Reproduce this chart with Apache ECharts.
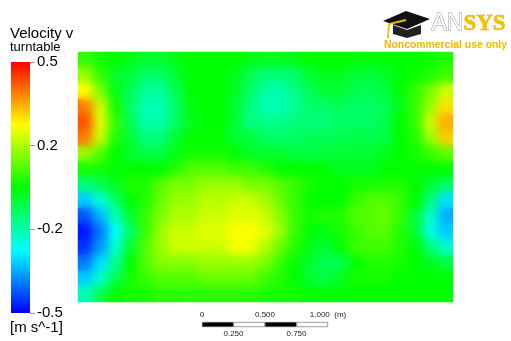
<!DOCTYPE html>
<html>
<head>
<meta charset="utf-8">
<script src="https://cdn.jsdelivr.net/npm/echarts@6/dist/echarts.min.js"></script>
<style>
  html, body { margin: 0; padding: 0; background: #ffffff; }
  #chart { width: 511px; height: 341px; }
</style>
</head>
<body>
<div id="chart"></div>
<script>
// velocity v on the turntable, rows top -> bottom, columns left -> right
const velocityRows = [
  [0.05, 0.02, 0, -0.02, -0.04, -0.05, -0.02, 0, 0, 0, 0, -0.02, -0.03, -0.03, -0.02, 0, 0, 0, -0.01, -0.01, 0, 0, 0, 0.01, 0.03],
  [0.15, 0.05, -0.04, -0.06, -0.1, -0.1, -0.05, 0, 0, 0, -0.02, -0.08, -0.12, -0.12, -0.1, -0.04, -0.03, -0.03, -0.05, -0.06, -0.04, -0.01, 0.01, 0.03, 0.06],
  [0.25, 0.12, -0.02, -0.08, -0.15, -0.15, -0.08, 0, 0, 0, -0.03, -0.1, -0.16, -0.17, -0.13, -0.08, -0.05, -0.05, -0.08, -0.08, -0.06, 0, 0.05, 0.12, 0.2],
  [0.38, 0.2, 0.02, -0.1, -0.18, -0.18, -0.1, -0.02, 0, 0, -0.05, -0.12, -0.18, -0.18, -0.15, -0.1, -0.1, -0.08, -0.1, -0.1, -0.08, -0.02, 0.05, 0.15, 0.28],
  [0.42, 0.22, 0.05, -0.08, -0.17, -0.17, -0.1, -0.03, 0, 0, -0.05, -0.13, -0.13, -0.13, -0.12, -0.12, -0.12, -0.1, -0.1, -0.1, -0.07, 0, 0.05, 0.2, 0.33],
  [0.38, 0.2, 0.03, -0.05, -0.12, -0.12, -0.05, 0, 0, 0, -0.05, -0.05, -0.1, -0.1, -0.1, -0.08, -0.08, -0.08, -0.07, -0.07, -0.07, 0, 0.03, 0.15, 0.3],
  [0.15, 0.08, 0, -0.04, -0.07, -0.07, -0.02, 0.02, 0.02, 0.02, 0, -0.04, -0.04, -0.04, -0.06, -0.06, -0.06, -0.05, -0.05, -0.05, -0.02, 0, 0.02, 0.05, 0.1],
  [0.02, 0.02, 0, 0, 0, 0, 0.03, 0.08, 0.08, 0.08, 0.06, 0.06, 0.03, 0, 0, 0, 0, -0.03, -0.03, -0.03, 0, 0, 0, 0, 0],
  [-0.12, -0.08, -0.03, 0.03, 0.03, 0.08, 0.12, 0.12, 0.15, 0.15, 0.15, 0.12, 0.12, 0.08, 0.05, 0.02, 0, 0, 0.02, 0.02, 0.03, 0.03, 0, -0.05, -0.1],
  [-0.3, -0.22, -0.1, 0, 0.03, 0.1, 0.15, 0.15, 0.18, 0.18, 0.2, 0.2, 0.16, 0.1, 0.05, 0, 0, 0, 0.05, 0.08, 0.08, 0.05, 0, -0.12, -0.28],
  [-0.42, -0.32, -0.18, -0.05, 0.05, 0.12, 0.17, 0.17, 0.2, 0.2, 0.22, 0.22, 0.2, 0.13, 0.05, 0.02, 0.03, 0.03, 0.08, 0.08, 0.1, 0.05, -0.05, -0.2, -0.33],
  [-0.48, -0.38, -0.25, -0.1, 0.05, 0.15, 0.2, 0.2, 0.22, 0.22, 0.25, 0.25, 0.22, 0.15, 0.05, 0, -0.02, 0.02, 0.05, 0.08, 0.08, 0.03, -0.05, -0.22, -0.3],
  [-0.45, -0.35, -0.2, -0.05, 0.08, 0.15, 0.2, 0.2, 0.2, 0.2, 0.24, 0.24, 0.18, 0.1, 0.03, -0.02, -0.05, 0, 0.06, 0.06, 0.06, 0.03, 0, -0.12, -0.2],
  [-0.38, -0.28, -0.15, 0, 0.08, 0.13, 0.13, 0.13, 0.15, 0.15, 0.15, 0.15, 0.12, 0.05, 0, -0.05, -0.08, -0.08, 0, 0.03, 0.03, 0.02, 0, -0.03, -0.06],
  [-0.3, -0.2, -0.08, 0.02, 0.05, 0.08, 0.08, 0.08, 0.1, 0.1, 0.1, 0.1, 0.06, 0.03, 0, -0.05, -0.07, -0.03, 0.02, 0.02, 0.02, 0, 0, 0, 0],
  [-0.18, -0.08, 0, 0.02, 0.02, 0.04, 0.04, 0.04, 0.04, 0.04, 0.04, 0.04, 0.02, 0.02, 0.02, 0, 0, 0, 0, 0, 0, 0, 0, 0, 0]
];

// legend
const legendTickLabels = ['-0.5', '-0.2', '0.2', '0.5'];
const rainbow = ['#0000ff', '#00ffff', '#00ff00', '#ffff00', '#ff0000'];

// scale bar (m)
const scaleSegments = [0.25, 0.25, 0.25, 0.25];
const scaleTopLabels = { 0: '0', 0.5: '0.500', 1: '1.000' };
const scaleBottomLabels = { 0.25: '0.250', 0.75: '0.750' };

const nCols = velocityRows[0].length;
const nRows = velocityRows.length;
const colCats = [];
for (let i = 0; i < nCols; i++) colCats.push(i);
const rowCats = [];
for (let j = 0; j < nRows; j++) rowCats.push(j);

const heatData = [];
velocityRows.forEach((row, j) => {
  row.forEach((v, i) => heatData.push([i, j, v]));
});

const font = 'Liberation Sans';
const chart = echarts.init(document.getElementById('chart'));

// same field twice: a plain layer, and one on its own canvas layer that gets softened
const heatSeries = (zlevel) => ({
  type: 'heatmap',
  xAxisIndex: 0, yAxisIndex: 0,
  zlevel: zlevel,
  data: heatData,
  itemStyle: { borderWidth: 0 },
  emphasis: { disabled: true },
  silent: true
});

// legend bar gradient, top (red) to bottom (blue)
const legendGradient = new echarts.graphic.LinearGradient(0, 0, 0, 1,
  rainbow.slice().reverse().map((c, k) => ({ offset: k / (rainbow.length - 1), color: c })));

const option = {
  backgroundColor: '#ffffff',
  animation: false,
  textStyle: { fontFamily: font },
  grid: [
    // contour field
    { left: 78, top: 52, width: 375, height: 250 },
    // colour legend
    { left: 11, top: 62, width: 19, height: 251 },
    // scale bar
    { left: 202, top: 322, width: 126, height: 5 }
  ],
  xAxis: [
    { gridIndex: 0, type: 'category', data: colCats, show: false },
    { gridIndex: 1, type: 'category', data: ['legend'], show: false },
    {
      gridIndex: 2, type: 'value', position: 'top', min: 0, max: 1, interval: 0.5,
      axisLine: { show: false }, axisTick: { show: false }, splitLine: { show: false },
      axisLabel: {
        margin: 3, fontSize: 8, color: '#222',
        formatter: v => v === 1 ? '{a|' + scaleTopLabels[v] + '}{b|  (m)}' : (scaleTopLabels[v] || ''),
        rich: { a: { fontSize: 8, color: '#222' }, b: { fontSize: 8, color: '#222' } }
      }
    },
    {
      gridIndex: 2, type: 'value', position: 'bottom', min: 0, max: 1, interval: 0.25,
      axisLine: { show: false }, axisTick: { show: false }, splitLine: { show: false },
      axisLabel: { margin: 3, fontSize: 8, color: '#222', formatter: v => scaleBottomLabels[v] || '' }
    }
  ],
  yAxis: [
    { gridIndex: 0, type: 'category', data: rowCats, inverse: true, show: false },
    {
      gridIndex: 1, type: 'value', position: 'right', min: 0, max: 3, interval: 1,
      axisLine: { show: false },
      axisTick: { show: true, length: 5, lineStyle: { color: '#999', width: 1 } },
      splitLine: { show: false },
      axisLabel: { margin: 7, fontSize: 15, color: '#000', formatter: v => legendTickLabels[v] }
    },
    { gridIndex: 2, type: 'category', data: ['bar'], show: false }
  ],
  visualMap: {
    type: 'continuous',
    show: false,
    min: -0.5, max: 0.5,
    seriesIndex: [0, 1],
    inRange: { color: rainbow }
  },
  series: [
    heatSeries(0),
    heatSeries(1),
    {
      type: 'bar',
      xAxisIndex: 1, yAxisIndex: 1,
      barWidth: '100%',
      data: [3],
      itemStyle: { color: legendGradient },
      silent: true
    },
    ...scaleSegments.map((s, k) => ({
      type: 'bar',
      xAxisIndex: 2, yAxisIndex: 2,
      stack: 'scale',
      barWidth: 5,
      data: [s],
      itemStyle: { color: k % 2 === 0 ? '#000' : '#fff', borderColor: '#555', borderWidth: 0.6 },
      silent: true
    }))
  ],
  graphic: [
    { type: 'text', left: 10, top: 26, style: { text: 'Velocity v', font: '15px ' + font, fill: '#000' } },
    { type: 'text', left: 10, top: 41, style: { text: 'turntable', font: '13px ' + font, fill: '#000' } },
    { type: 'text', left: 10, top: 320, style: { text: '[m s^-1]', font: '15px ' + font, fill: '#000' } },
    // logo
    { type: 'polygon', shape: { points: [[383, 21], [406, 11], [430, 19], [407, 29]] }, style: { fill: '#111' } },
    { type: 'polygon', shape: { points: [[393, 25], [393, 34], [407, 38], [421, 34], [421, 25], [407, 30]] }, style: { fill: '#222' } },
    { type: 'polyline', shape: { points: [[406, 20], [389, 24], [388, 38]] }, style: { stroke: '#e8c000', lineWidth: 1.8, fill: null } },
    {
      type: 'text', left: 431, top: 12,
      style: {
        text: '{an|AN}{sys|SYS}',
        rich: {
          an: { font: '23px ' + font, fill: '#fff', stroke: '#999', lineWidth: 1 },
          sys: { font: 'bold 23px Liberation Serif', fill: '#f2c200', stroke: '#d9a800', lineWidth: 0.5 }
        }
      }
    },
    { type: 'text', left: 384, top: 40, style: { text: 'Noncommercial use only', font: 'bold 10.4px ' + font, fill: '#f0b800' } }
  ]
};

chart.setOption(option);

// soften the upper heat layer so the field reads like the smooth contour, clipped to the plot
const soft = document.querySelector('#chart canvas[data-zr-dom-id="zr_1"]');
if (soft) {
  soft.style.filter = 'blur(5px)';
  soft.style.clipPath = 'inset(52px 58px 39px 78px)';
}
</script>
</body>
</html>
